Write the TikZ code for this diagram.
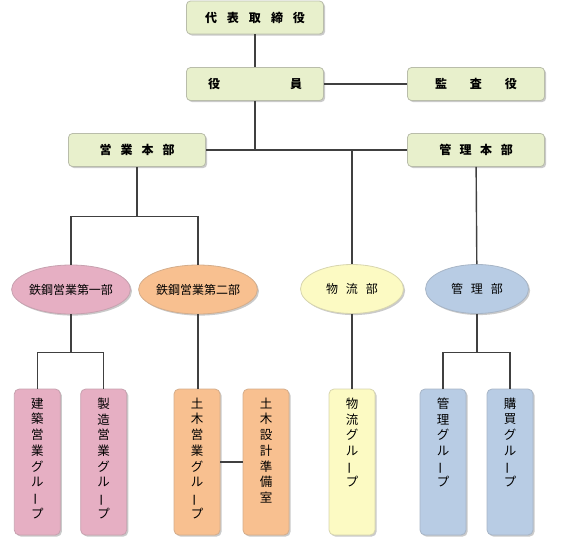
\documentclass[tikz,border=0pt]{standalone}
\usepackage{fontspec}
\usepackage{graphicx}
\newfontfamily\cjk{Noto Sans CJK JP}
\usetikzlibrary{shapes.geometric,shadows}
\definecolor{gfill}{HTML}{E8F0CC}
\definecolor{pinkfill}{HTML}{E6AFC3}
\definecolor{orangefill}{HTML}{F8C090}
\definecolor{yellowfill}{HTML}{FCFAC3}
\definecolor{bluefill}{HTML}{B8CCE4}
\definecolor{linegray}{HTML}{404040}
\newcommand{\vbar}{\rotatebox[origin=c]{90}{ー}}
\begin{document}
\begin{tikzpicture}[x=1pt,y=-1pt,
  conn/.style={draw=linegray, line width=1.4pt},
  shad/.style={drop shadow={opacity=0.35, shadow xshift=1.6pt, shadow yshift=-1.6pt, fill=black!60}},
  topbox/.style={rectangle, rounded corners=4pt, draw=gfill!55!gray, line width=0.8pt, fill=gfill,
    minimum width=137pt, minimum height=33pt, inner sep=0pt, shad,
    font=\cjk\bfseries\fontsize{12}{14}\selectfont},
  dept/.style={ellipse, minimum width=103pt, minimum height=49pt, inner sep=0pt, line width=0.8pt, shad,
    font=\cjk\fontsize{12}{14}\selectfont},
  grp/.style={rectangle, rounded corners=5pt, minimum width=46pt, minimum height=146pt, inner sep=0pt,
    line width=0.8pt, shad},
  vtext/.style={anchor=north, align=center, inner sep=0pt, font=\cjk\fontsize{12.5}{15.7}\selectfont},
]
\useasboundingbox (0,0) rectangle (563,541);

% top level boxes
\node[topbox] (ceo) at (255,17.5) {代\hspace{10pt}表\hspace{10pt}取\hspace{10pt}締\hspace{10pt}役};
\node[topbox] (yakuin) at (255,84) {役\hspace{70pt}員};
\node[topbox] (kansa) at (476,84) {監\hspace{23pt}査\hspace{23pt}役};
\node[topbox] (eigyo) at (137,150) {営\hspace{9pt}業\hspace{9pt}本\hspace{9pt}部};
\node[topbox] (kanri) at (476,150) {管\hspace{8.5pt}理\hspace{8.5pt}本\hspace{8.5pt}部};

% departments
\node[dept, fill=pinkfill, draw=pinkfill!70!gray] (tekko1) at (71,289.5) {鉄鋼営業第一部};
\node[dept, fill=orangefill, draw=orangefill!70!gray] (tekko2) at (198,289.5) {鉄鋼営業第二部};
\node[dept, fill=yellowfill, draw=yellowfill!70!gray] (butsuryu) at (352,289) {物\hspace{8pt}流\hspace{8pt}部};
\node[dept, fill=bluefill, draw=bluefill!70!gray] (kanribu) at (477,289) {管\hspace{8pt}理\hspace{8pt}部};

% groups
\node[grp, fill=pinkfill, draw=pinkfill!70!gray] (kenchiku) at (37.3,462) {};
\node[grp, fill=pinkfill, draw=pinkfill!70!gray] (seizo) at (103.7,462) {};
\node[grp, fill=orangefill, draw=orangefill!70!gray] (doboku) at (197,462) {};
\node[grp, fill=orangefill, draw=orangefill!70!gray] (sekkei) at (266,462) {};
\node[grp, fill=yellowfill, draw=yellowfill!70!gray] (butsuryuG) at (352,462) {};
\node[grp, fill=bluefill, draw=bluefill!70!gray] (kanriG) at (443,462) {};
\node[grp, fill=bluefill, draw=bluefill!70!gray] (kobai) at (510,462) {};

\node[vtext] (kenchikuT) at ([yshift=-9pt]kenchiku.north) {建\\築\\営\\業\\グ\\ル\\\vbar\\プ};
\node[vtext] (seizoT) at ([yshift=-9pt]seizo.north) {製\\造\\営\\業\\グ\\ル\\\vbar\\プ};
\node[vtext] (dobokuT) at ([yshift=-9pt]doboku.north) {土\\木\\営\\業\\グ\\ル\\\vbar\\プ};
\node[vtext] (sekkeiT) at ([yshift=-9pt]sekkei.north) {土\\木\\設\\計\\準\\備\\室};
\node[vtext] (butsuryuGT) at ([yshift=-9pt]butsuryuG.north) {物\\流\\グ\\ル\\\vbar\\プ};
\node[vtext] (kanriGT) at ([yshift=-9pt]kanriG.north) {管\\理\\グ\\ル\\\vbar\\プ};
\node[vtext] (kobaiT) at ([yshift=-9pt]kobai.north) {購\\買\\グ\\ル\\\vbar\\プ};

% connectors
\coordinate (j1) at (255,150);
\coordinate (j2) at (352,150);
\coordinate (j3) at (137,216.5);
\coordinate (j4) at (71,352.3);
\coordinate (j5) at (477,352.3);
\draw[conn] (ceo) -- (yakuin);
\draw[conn] (yakuin) -- (kansa);
\draw[conn] (yakuin) -- (j1);
\draw[conn] (eigyo) -- (kanri);
\draw[conn] (j2) -- (butsuryu);
\draw[conn] (eigyo) -- (j3);
\draw[conn] (j3) -| (tekko1);
\draw[conn] (j3) -| (tekko2);
\draw[conn] (kanri) -- (kanribu);
\draw[conn] (tekko1) -- (j4);
\draw[conn] (j4) -| (kenchiku);
\draw[conn] (j4) -| (seizo);
\draw[conn] (tekko2.south) -- (tekko2.south |- doboku.north);
\draw[conn] (doboku) -- (sekkei);
\draw[conn] (butsuryu) -- (butsuryuG);
\draw[conn] (kanribu) -- (j5);
\draw[conn] (j5) -| (kanriG);
\draw[conn] (j5) -| (kobai);
\end{tikzpicture}
\end{document}
